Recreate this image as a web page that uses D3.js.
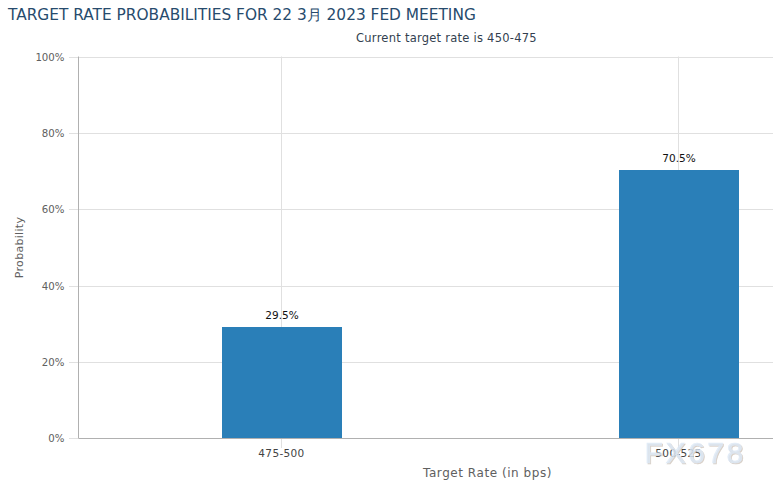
<!DOCTYPE html>
<html><head><meta charset="utf-8">
<script src="https://cdn.jsdelivr.net/npm/d3@7"></script>
<style>
html,body{margin:0;padding:0;background:#fff;overflow:hidden}
svg{display:block}
text{font-family:"DejaVu Sans",sans-serif}
</style></head><body>
<svg id="c" width="773" height="488"></svg>
<script>
const categories=["475-500","500-525"];
const probabilities=[29.2,70.3];
const barLabels=["29.5%","70.5%"];
const yTicks=[0,20,40,60,80,100];
const titleText="TARGET RATE PROBABILITIES FOR 22 3月 2023 FED MEETING";
const subtitleText="Current target rate is 450-475";
const xTitle="Target Rate (in bps)";
const yTitle="Probability";
const watermark="FX678";

const svg=d3.select("#c");
const y=d3.scaleLinear().domain([0,100]).range([438.2,56.7]);
const x=d3.scalePoint().domain(categories).range([281.5,678.5]);
const barW=120,left=78.5,right=773;

svg.append("text").attr("x",8).attr("y",20).attr("font-size",15.37).attr("fill","#274b6d").text(titleText);
svg.append("text").attr("x",446.5).attr("y",42).attr("text-anchor","middle").attr("font-size",11.5).attr("letter-spacing",.25).attr("fill","#333f50").text(subtitleText);

svg.append("g").selectAll("line").data(yTicks).join("line")
 .attr("x1",69).attr("x2",right).attr("y1",d=>Math.round(y(d))+.5).attr("y2",d=>Math.round(y(d))+.5)
 .attr("stroke","#e0e0e0");
svg.append("g").selectAll("line").data(categories).join("line")
 .attr("x1",d=>x(d)).attr("x2",d=>x(d)).attr("y1",56.5).attr("y2",448)
 .attr("stroke","#e0e0e0");

svg.append("g").selectAll("text").data(yTicks).join("text")
 .attr("x",64.5).attr("y",d=>y(d)+4).attr("text-anchor","end").attr("font-size",10.2).attr("fill","#606060").text(d=>d+"%");

svg.append("g").selectAll("rect").data(categories).join("rect")
 .attr("x",d=>x(d)-barW/2+.5).attr("width",barW)
 .attr("y",(d,i)=>Math.round(y(probabilities[i]))).attr("height",(d,i)=>438-Math.round(y(probabilities[i])))
 .attr("fill","#2a7fb8");

svg.append("line").attr("x1",left).attr("x2",left).attr("y1",56.5).attr("y2",438).attr("stroke","#b0b0b0");
svg.append("line").attr("x1",left).attr("x2",right).attr("y1",438.5).attr("y2",438.5).attr("stroke","#b0b0b0");

svg.append("g").selectAll("text").data(categories).join("text")
 .attr("x",d=>x(d)+.5).attr("y",(d,i)=>Math.round(y(probabilities[i]))-8).attr("text-anchor","middle")
 .attr("font-size",10.5).attr("fill","#111").text((d,i)=>barLabels[i]);

svg.append("g").selectAll("text").data(categories).join("text")
 .attr("x",d=>x(d)).attr("y",457).attr("text-anchor","middle").attr("font-size",10.5).attr("letter-spacing",.35).attr("fill","#444").text(d=>d);

svg.append("text").attr("x",487.5).attr("y",477).attr("text-anchor","middle").attr("font-size",12).attr("letter-spacing",.55).attr("fill","#606060").text(xTitle);
svg.append("text").attr("transform","translate(23,247.5) rotate(-90)").attr("text-anchor","middle").attr("font-size",11).attr("letter-spacing",.3).attr("fill","#606060").text(yTitle);

const defs=svg.append("defs");
const f=defs.append("filter").attr("id","ws").attr("x","-10%").attr("y","-10%").attr("width","120%").attr("height","130%");
f.append("feDropShadow").attr("dx",1).attr("dy",1).attr("stdDeviation",.5).attr("flood-color","#b0a090").attr("flood-opacity",.6);
svg.append("text").attr("x",644.5).attr("y",463).style("font-family","'Liberation Sans',sans-serif")
 .attr("font-size",30).attr("letter-spacing",2.6).attr("fill","#dce8f5").attr("fill-opacity",.75).attr("stroke","#dce8f5").attr("stroke-opacity",.75).attr("stroke-width",.6).attr("filter","url(#ws)").text(watermark);
</script></body></html>
